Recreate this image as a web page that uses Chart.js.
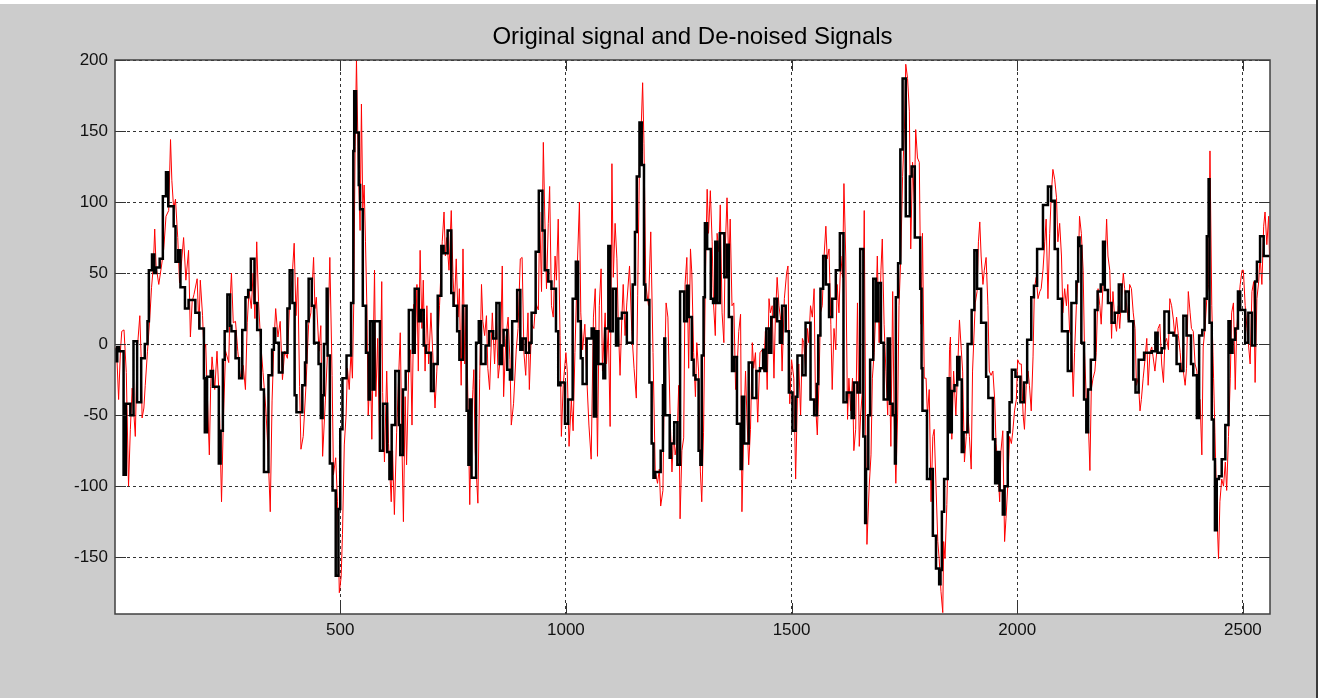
<!DOCTYPE html>
<html>
<head>
<meta charset="utf-8">
<script src="https://cdn.jsdelivr.net/npm/chart.js@4.4.0/dist/chart.umd.min.js"></script>
<style>
  html, body { margin: 0; padding: 0; background: #cccccc; overflow: hidden; }
  canvas { display: block; }
</style>
</head>
<body>
<canvas id="signals" width="1324" height="698"></canvas>
<script>
// values

const chartTitle = 'Original signal and De-noised Signals';
const xTicks = [500, 1000, 1500, 2000, 2500];
const yTicks = [-150, -100, -50, 0, 50, 100, 150, 200];

// de-noised signal: step breakpoints (sample index, level)
const blackX = [
  1, 6, 10, 20, 25, 35, 42, 50, 59, 67,
  73, 76, 83, 88, 92, 100, 107, 114, 119, 131,
  135, 141, 146, 156, 164, 179, 188, 198, 200, 205,
  213, 218, 231, 235, 240, 244, 250, 256, 259, 268,
  276, 283, 290, 296, 302, 310, 316, 324, 331, 341,
  349, 353, 356, 364, 372, 383, 388, 394, 399, 403,
  416, 422, 425, 430, 437, 442, 452, 457, 461, 464,
  470, 472, 477, 483, 490, 496, 500, 505, 514, 524,
  529, 531, 535, 541, 544, 550, 557, 563, 566, 572,
  576, 588, 595, 604, 609, 614, 622, 630, 633, 639,
  645, 652, 661, 665, 674, 679, 685, 690, 701, 707,
  716, 724, 729, 738, 746, 751, 759, 764, 772, 780,
  784, 787, 791, 801, 807, 812, 822, 830, 839, 846,
  853, 858, 862, 870, 876, 881, 892, 899, 904, 911,
  919, 924, 933, 940, 948, 953, 961, 968, 978, 983,
  988, 998, 1005, 1015, 1022, 1027, 1033, 1037, 1046, 1057,
  1062, 1067, 1072, 1083, 1087, 1094, 1098, 1104, 1111, 1116,
  1124, 1135, 1148, 1153, 1157, 1163, 1168, 1173, 1176, 1185,
  1190, 1194, 1198, 1210, 1215, 1218, 1220, 1230, 1233, 1240,
  1247, 1253, 1262, 1268, 1272, 1279, 1283, 1287, 1294, 1298,
  1301, 1305, 1308, 1313, 1321, 1326, 1331, 1335, 1341, 1351,
  1357, 1361, 1368, 1373, 1379, 1387, 1390, 1395, 1405, 1413,
  1422, 1430, 1437, 1440, 1444, 1450, 1455, 1462, 1468, 1474,
  1479, 1487, 1494, 1502, 1509, 1513, 1524, 1531, 1542, 1550,
  1556, 1559, 1564, 1570, 1576, 1583, 1590, 1598, 1607, 1615,
  1622, 1633, 1638, 1646, 1652, 1659, 1663, 1665, 1670, 1674,
  1681, 1687, 1692, 1698, 1704, 1713, 1718, 1724, 1729, 1731,
  1736, 1741, 1746, 1753, 1762, 1766, 1773, 1785, 1788, 1790,
  1800, 1807, 1813, 1820, 1827, 1830, 1833, 1838, 1846, 1850,
  1855, 1861, 1867, 1872, 1877, 1881, 1890, 1899, 1905, 1911,
  1920, 1931, 1936, 1946, 1951, 1956, 1961, 1968, 1972, 1979,
  1983, 1988, 1996, 2007, 2015, 2022, 2031, 2037, 2044, 2057,
  2068, 2075, 2083, 2090, 2099, 2112, 2120, 2131, 2135, 2138,
  2142, 2148, 2153, 2157, 2163, 2172, 2178, 2185, 2190, 2194,
  2201, 2209, 2216, 2225, 2231, 2240, 2247, 2257, 2262, 2269,
  2281, 2298, 2306, 2311, 2320, 2326, 2336, 2346, 2353, 2361,
  2368, 2375, 2385, 2390, 2398, 2403, 2410, 2415, 2420, 2424,
  2426, 2431, 2435, 2438, 2442, 2447, 2453, 2461, 2468, 2472,
  2477, 2483, 2489, 2494, 2505, 2512, 2520, 2527, 2531, 2538,
  2546, 2557, 2560
];
const blackY = [
  -3, -12, -2, -5, -92, -42, -50, 2, -41, -10,
  0, 16, 52, 63, 50, 54, 60, 104, 121, 97,
  83, 58, 66, 40, 25, 31, 22, 11, -24, -62,
  -23, -19, -30, -84, -61, -11, 9, 35, 13, 9,
  -10, -24, 10, 33, 38, 60, 29, 10, -32, -90,
  -22, -4, 11, 1, -20, -6, 25, 52, 29, -36,
  -48, -29, -13, 16, 46, 27, 1, -14, -52, -36,
  0, 39, -8, -84, -103, -163, -116, -60, -24, -8,
  29, 136, 178, 149, 112, 95, 27, -6, -39, 16,
  -32, 16, -75, -42, -76, -95, -57, -19, -57, -78,
  -32, -19, 24, -6, 39, 16, 24, -1, -6, -33,
  -14, 34, 69, 64, 80, 36, 27, 9, -11, 27,
  -47, -85, -39, -94, 1, 16, -14, -1, 9, 4,
  29, -14, -1, 10, -18, -25, 16, 38, -4, 4,
  -6, 1, 22, 65, 108, 80, 52, 44, 39, 9,
  -29, -27, -56, -39, 32, 58, 16, -10, -28, 4,
  11, -51, 9, -14, -24, 11, 69, 9, 39, -1,
  18, 22, 1, 42, 79, 118, 156, 126, 42, 31,
  -27, -70, -94, -90, -75, -29, 4, -50, -80, -70,
  -55, -85, 37, 16, 41, 19, -11, -22, -25, -75,
  -85, -8, 33, 85, 67, 32, 29, 72, 29, 78,
  47, 70, 19, -19, -9, -56, -88, -37, -70, -13,
  -38, -19, -17, -4, -19, 11, -6, 19, 32, 16,
  1, 27, 9, -34, -61, -37, -8, -22, 15, -39,
  -50, -28, 6, 39, 62, 42, 19, 32, 52, 78,
  -41, -34, -52, -27, -34, 67, -65, -126, -88, -50,
  -11, 46, 16, 43, 1, -39, 4, -42, -50, -84,
  33, 57, 137, 187, 90, 118, 125, 75, 39, -17,
  -47, -95, -88, -135, -158, -169, -159, -118, -95, -24,
  -62, -33, -29, -9, -25, -76, -62, 0, 24, 66,
  39, 15, -23, -38, -67, -98, -76, -103, -120, -100,
  -62, -41, -18, -23, -41, -27, 3, 33, 41, 67,
  98, 111, 101, 67, 32, 9, -19, 29, 44, 75,
  69, 1, -39, -62, -32, -11, 24, 37, 42, 72,
  38, 29, 15, 22, 42, 23, 37, 16, -25, -34,
  -11, -6, -5, 8, -6, -3, 23, 8, 6, -14,
  -19, 20, 6, -14, -22, -52, 6, 10, 32, 76,
  116, 15, -53, -81, -131, -95, -93, -81, -57, 16,
  -6, 3, 11, 37, 24, 1, 22, -1, 44, 58,
  76, 62, 62
];

// original (noisy) signal: turning points
const redX = [
  1, 5, 9, 13, 16, 21, 26, 31, 35, 39,
  43, 46, 50, 56, 59, 61, 65, 68, 73, 78,
  82, 86, 89, 92, 98, 104, 109, 114, 120, 124,
  127, 131, 135, 140, 144, 149, 153, 158, 164, 168,
  172, 176, 183, 187, 190, 195, 198, 202, 206, 210,
  213, 216, 222, 227, 232, 237, 241, 246, 253, 256,
  259, 263, 268, 273, 279, 285, 290, 294, 298, 303,
  307, 311, 315, 319, 324, 329, 335, 340, 345, 349,
  353, 357, 362, 367, 372, 377, 383, 388, 393, 398,
  402, 406, 410,
  413, 418, 424, 430, 435, 441, 444, 447, 453, 457,
  461, 467, 472, 477, 482, 485, 490, 494, 498, 502,
  505, 509, 513, 516, 520, 524, 527, 530, 533, 536,
  540, 544, 547, 550, 553, 556, 559, 562, 567, 570,
  576, 579, 583, 587, 592, 594, 598, 603, 607, 613,
  616, 620, 625, 629, 633, 637, 640, 644, 647, 652,
  656, 659, 663, 666, 670, 673, 677, 681, 684, 688,
  692, 696, 701, 705, 710, 714, 720, 726, 730, 733,
  736, 741, 746, 750, 753, 757, 761, 764, 768, 772,
  776, 779, 783, 787, 790, 794, 796, 799, 805, 809,
  813, 816, 820, 824, 827, 831,
  837, 842, 846, 850, 855, 859, 862, 867, 872, 876,
  879, 884, 890, 894, 899, 903, 907, 911, 916, 919,
  924, 929, 933, 939, 942, 946, 950, 953, 957, 961,
  964, 968, 972, 976, 979, 983, 987, 990, 994, 1000,
  1003, 1007, 1012, 1016, 1020, 1025, 1030, 1033, 1037, 1042,
  1046, 1051, 1056, 1061, 1065, 1070, 1074, 1078, 1081, 1087,
  1090, 1094, 1098, 1102, 1105, 1109, 1113, 1116, 1120, 1124,
  1127, 1131, 1135, 1141, 1146, 1151, 1156, 1159, 1163, 1167,
  1170, 1173, 1177, 1183, 1188, 1193, 1198, 1203, 1207, 1210,
  1215, 1218, 1222, 1226, 1231, 1235, 1239, 1242, 1246, 1250,
  1253, 1257, 1261,
  1264, 1268, 1272, 1276, 1279, 1283, 1287, 1290, 1294, 1298,
  1301, 1305, 1309, 1313, 1316, 1320, 1324, 1327, 1331, 1335,
  1339, 1342, 1346, 1350, 1353, 1357, 1361, 1364, 1368, 1372,
  1376, 1379, 1383, 1387, 1390, 1394, 1398, 1401, 1405, 1409,
  1413, 1416, 1420, 1425, 1430, 1435, 1438, 1442, 1446, 1450,
  1453, 1457, 1461, 1464, 1468, 1472, 1476, 1479, 1484, 1489,
  1492, 1496, 1500, 1505, 1509, 1513, 1516, 1520, 1524, 1527,
  1531, 1535, 1538, 1542, 1546, 1550, 1553, 1557, 1561, 1564,
  1568, 1572, 1576, 1579, 1583, 1587, 1590, 1594, 1598, 1601,
  1605, 1609, 1613, 1616, 1620, 1624, 1627, 1631, 1635, 1638,
  1642, 1646, 1650, 1653, 1657, 1661, 1664, 1667, 1672, 1676,
  1679, 1683, 1687, 1690, 1694, 1698, 1701, 1705, 1709, 1713,
  1716, 1720, 1724, 1727, 1731, 1735, 1738, 1742, 1746, 1750,
  1753, 1757, 1761, 1764, 1768, 1772, 1775, 1779, 1783, 1787,
  1790, 1794, 1798, 1801, 1805, 1809, 1813, 1816, 1820, 1824,
  1827, 1831, 1835, 1837, 1840, 1844, 1847, 1850, 1852, 1855,
  1859, 1864, 1868, 1872, 1876, 1879, 1883, 1887, 1890, 1894,
  1898, 1901, 1907, 1911, 1914, 1917, 1920, 1924, 1927, 1931,
  1935, 1938, 1942, 1946, 1950, 1953, 1957, 1961, 1964, 1968,
  1972, 1975, 1979, 1983, 1987, 1990, 1994, 1998, 2001, 2005,
  2009, 2013, 2016, 2020, 2024, 2027, 2031, 2035, 2038, 2042,
  2046, 2050, 2053, 2057, 2061, 2064, 2068, 2072, 2075, 2079,
  2083, 2087, 2090, 2094, 2098,
  2101, 2105, 2109, 2112, 2116, 2120, 2124, 2127, 2131, 2135,
  2138, 2142, 2146, 2149, 2153, 2157, 2161, 2164, 2168, 2172,
  2175, 2179, 2183, 2186, 2190, 2194, 2198, 2201, 2205, 2209,
  2212, 2216, 2220, 2224, 2227, 2231, 2235, 2238, 2242, 2246,
  2249, 2253, 2257, 2261, 2264, 2268, 2272, 2275, 2279, 2283,
  2287, 2290, 2294, 2298, 2301, 2305, 2309, 2312, 2316, 2320,
  2324, 2327, 2331, 2335, 2338, 2342, 2346, 2349, 2353, 2357,
  2361, 2364, 2368, 2372, 2375, 2379, 2383, 2386, 2390, 2394,
  2398, 2401, 2405, 2409, 2412, 2416, 2420, 2424, 2427, 2431,
  2435, 2438, 2442, 2446, 2449, 2453, 2457, 2461, 2464, 2468,
  2472, 2475, 2479, 2483, 2486, 2490, 2494, 2498, 2501, 2505,
  2509, 2512, 2516, 2520, 2524, 2527, 2531, 2535, 2538, 2542,
  2546, 2549, 2553, 2557, 2560
];
const redY = [
  -2, -8, -39, -5, 9, 10, -20, -100, -60, -31,
  -50, -65, -5, 20, -10, -52, -45, -29, -5, 18,
  40, 55, 81, 55, 42, 55, 67, 90, 94, 144,
  115, 95, 102, 75, 43, 60, 75, 45, 66, 5,
  30, 35, 46, 11, 45, 20, -5, 0, -40, -78,
  -30, -9, -32, -5, -40, -111, -55, -5, -13, 30,
  50, 15, 16, -5, -24, -15, -32, 15, 38, 25,
  50, 18, 72, 30, 0, -20, -45, -75, -118, -40,
  0, 25, 5, 16, -25, -5, -10, 30, 45, 71,
  20, 47, -30,
  -74, -65, -30, 14, 22, 61, 25, 33, -5, 13,
  -79, -40, -5, 61, -22, -92, -80, -111, -175, -164,
  -134, -71, -50, -17, -32, -5, -24, 29, 139, 200,
  128, 80, 169, 95, 112, 72, 27, -50, -14, -67,
  52, -37, 4, -65, 44, -34, -83, -19, -70, -111,
  -75, -120, -62, -27, 8, -75, -125, -37, -85, -14,
  -4, -57, 28, -6, 42, -19, 66, 11, 45, -19,
  27, -14, 22, -6, -45, -19, 27, 72, 93, 62,
  75, 52, 94, 47, 27, 60, 19, 39, -29, 67,
  -14, 27, -40, -113, -62, -32, -18, -75, -112, -24,
  42, 16, 6, 20, -17, -32,
  22, -14, 19, -24, -9, 55, -37, 4, 19, -11,
  -57, -42, -4, 11, 60, 61, -6, -22, 22, -32,
  14, 11, 29, 24, 93, 37, 142, 93, 39, 85,
  111, 27, 19, 62, 45, 88, 6, -65, -29, -6,
  -19, -72, -39, -61, -6, 52, 100, 22, -4, 14,
  -22, -57, -81, 19, 39, -79, 27, 53, -19, 22,
  -14, 11, -58, 127, 47, 85, 60, 15, -22, 19,
  42, 6, 29, 55, 9, -17, -38, 34, 128, 154,
  184, 141, 42, 27, 79, -6, -90, -98, -88, -114,
  -103, -27, 29, 19, -52, -90, -60, -78, -70, -29,
  -123, -75, -66,
  42, 61, -17, 67, 50, -6, -37, 1, -19, -90,
  -111, -62, 47, 109, 78, 108, 72, 29, 6, 78,
  65, 98, 22, 1, 67, 103, 55, 88, 27, 29,
  -32, -19, 9, 21, -118, -62, -19, -50, -85, -60,
  1, -17, -6, -55, -6, -4, -19, 9, -32, 32,
  22, 27, -24, 17, 47, 27, 17, -19, 32, 50,
  55, -42, -11, -24, -95, -37, -14, -50, 4, 1,
  -19, 11, 1, 27, 19, 39, -42, -64, -24, 22,
  27, 62, 83, 60, 67, 14, -32, 11, -4, 42,
  22, 62, 47, 113, 62, -53, -24, -47, -24, -75,
  -60, 29, -72, -50, -32, 94, -50, -141, -100, -78,
  -24, -6, 27, 62, 1, 52, 74, 14, -19, -50,
  1, -72, 37, -47, -98, -50, 27, 62, 118, 151,
  197, 187, 164, 67, 128, 100, 151, 131, 128, 14,
  78, -24, -24, -50, -32, -111, -65, -60, -100, -139,
  -151, -174, -189, -139, -151, -113, -70, -4, 5, -67,
  -19, -50, -17, 17, -4, -19, -83, -65, -45, -65,
  -88, -19, 29, 37, 72, 86, 62, 42, 52, 61,
  27, -19, -22, -19, -39, -70, -85, -111, -75, -61,
  -139, -123, -100, -65, -70, -62, -47, -39, -11, -14,
  -14, -50, -60, -29, -19, -29, -47, -9, 39, 47,
  32, 37, 39, 52, 72, 88, 32, 78, 103, 123,
  116, 103, 72, 85, 62,
  22, 39, 27, 42, 9, 6, -37, -6, 27, 50,
  90, 78, 52, -4, -39, -50, -89, -32, -24, -19,
  -6, 39, 27, 14, 42, 52, 88, 62, 52, 4,
  37, 17, 9, 27, 11, 32, 50, 39, 29, 17,
  42, 39, 22, 11, -29, -24, -47, -39, -24, -11,
  4, -29, -6, -2, -9, -19, -6, 11, 14, -14,
  -27, 1, 4, -4, 32, 27, 17, 6, 19, 6,
  -6, -19, -19, -29, -17, 37, 22, 11, 9, -14,
  -19, -42, -39, -78, -2, 11, 32, 42, 136, 27,
  -24, -62, -116, -151, -111, -95, -100, -83, -103, -65,
  -24, 22, 29, -32, 9, 27, 42, 52, 52, 27,
  11, 1, -14, 37, 44, -27, 32, 44, 62, 42,
  83, 93, 70, 90, 45
];

const denoised = blackX.map((x, i) => ({ x: x, y: blackY[i] }));
const original = redX.map((x, i) => ({ x: x, y: redY[i] }));

// figure background, white axes box, frame, inward ticks and title
const matlabFrame = {
  id: 'matlabFrame',
  beforeDraw(chart) {
    const { ctx, chartArea: a, width, height } = chart;
    ctx.save();
    ctx.fillStyle = '#cccccc';
    ctx.fillRect(0, 0, width, height);
    ctx.fillStyle = '#ffffff';
    ctx.fillRect(0, 0, width, 4);
    ctx.fillRect(1318, 0, width - 1318, height);
    ctx.fillStyle = '#3a3a3a';
    ctx.fillRect(1316, 0, 2, height);
    ctx.fillStyle = '#ffffff';
    ctx.fillRect(a.left, a.top, a.right - a.left, a.bottom - a.top);
    ctx.restore();
  },
  afterDraw(chart) {
    const { ctx, chartArea: a } = chart;
    const xs = chart.scales.x, ys = chart.scales.y;
    ctx.save();
    ctx.strokeStyle = '#333333';
    ctx.lineWidth = 1;
    ctx.beginPath();
    yTicks.forEach(v => {
      const p = Math.round(ys.getPixelForValue(v)) + 0.5;
      ctx.moveTo(a.left, p); ctx.lineTo(a.left + 11, p);
      ctx.moveTo(a.right, p); ctx.lineTo(a.right - 11, p);
    });
    xTicks.forEach(v => {
      const p = Math.round(xs.getPixelForValue(v)) + 0.5;
      ctx.moveTo(p, a.bottom); ctx.lineTo(p, a.bottom - 11);
      ctx.moveTo(p, a.top); ctx.lineTo(p, a.top + 11);
    });
    ctx.stroke();
    ctx.lineWidth = 1.5;
    ctx.strokeStyle = '#404040';
    ctx.strokeRect(a.left, a.top, a.right - a.left, a.bottom - a.top);
    ctx.fillStyle = '#000000';
    ctx.font = '24px "Liberation Sans", Arial, sans-serif';
    ctx.textAlign = 'center';
    ctx.textBaseline = 'middle';
    ctx.fillText(chartTitle, (a.left + a.right) / 2, 37);
    ctx.restore();
  }
};

const tickFont = { family: '"Liberation Sans", Arial, sans-serif', size: 17 };

new Chart(document.getElementById('signals'), {
  type: 'line',
  data: {
    datasets: [{
      label: 'De-noised',
      data: denoised,
      borderColor: '#000000',
      borderWidth: 2.5,
      stepped: 'after',
      pointRadius: 0,
      order: 0
    }, {
      label: 'Original',
      data: original,
      borderColor: '#ff0000',
      borderWidth: 1,
      tension: 0,
      pointRadius: 0,
      order: 1
    }]
  },
  options: {
    responsive: false, animation: false, events: [],
    layout: { padding: { left: 0, top: 60, right: 54, bottom: 0 } },
    plugins: { legend: { display: false }, tooltip: { enabled: false }, title: { display: false } },
    scales: {
      x: {
        type: 'linear', min: 1, max: 2560,
        afterFit: s => { s.height = 84; },
        afterBuildTicks: s => { s.ticks = xTicks.map(v => ({ value: v })); },
        ticks: { font: tickFont, color: '#111111', padding: 6, maxRotation: 0, callback: v => String(v) },
        grid: { color: 'rgba(0,0,0,0.8)', lineWidth: 1, drawTicks: false },
        border: { display: false, dash: [3, 3] }
      },
      y: {
        type: 'linear', min: -190, max: 200,
        afterFit: s => { s.width = 115; },
        afterBuildTicks: s => { s.ticks = yTicks.map(v => ({ value: v })); },
        ticks: { font: tickFont, color: '#111111', padding: 7, callback: v => String(v) },
        grid: { color: 'rgba(0,0,0,0.8)', lineWidth: 1, drawTicks: false },
        border: { display: false, dash: [3, 3] }
      }
    }
  },
  plugins: [matlabFrame]
});
</script>
</body>
</html>
